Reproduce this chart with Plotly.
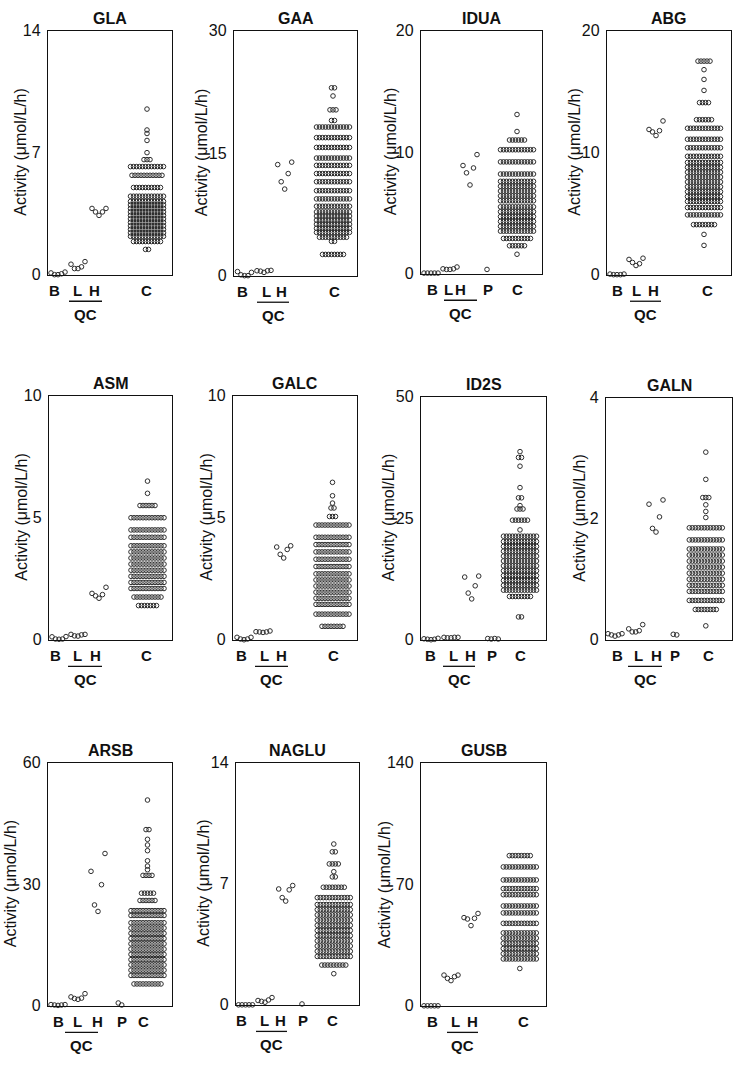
import plotly.graph_objects as go

W_FIG, H_FIG = 734, 1065

# ------------------------------------------------------------------ data
# small groups: B = blank, L/H = QC low/high, P = patient ; C = controls
# C is given as beeswarm rows: level (activity) and number of points in that row
GLA_B = [0.1, 0.0, 0.0, 0.05, 0.15]
GLA_L = [0.6, 0.35, 0.35, 0.45, 0.75]
GLA_H = [3.8, 3.6, 3.4, 3.6, 3.8]
GLA_C_levels = [9.5, 8.3, 8.1, 7.7, 7.0, 6.6, 6.2, 5.7, 5.0, 4.5, 4.2, 4.0, 3.8, 3.6, 3.4, 3.2, 3.0, 2.8, 2.6, 2.4, 2.2, 1.9, 1.45]
GLA_C_counts = [1, 1, 1, 1, 1, 3, 12, 11, 10, 12, 12, 12, 12, 12, 12, 12, 12, 12, 12, 12, 12, 10, 2]
GLA_yticks = [0, 7, 14]

GAA_B = [0.5, 0.1, 0.0, 0.0, 0.4]
GAA_L = [0.6, 0.55, 0.4, 0.6, 0.65]
GAA_H = [13.6, 11.5, 10.6, 12.5, 13.9]
GAA_C_levels = [23.0, 22.0, 20.3, 19.0, 18.2, 16.9, 15.7, 14.4, 13.5, 12.5, 11.5, 10.4, 9.4, 8.5, 7.8, 7.3, 6.8, 6.3, 5.8, 5.3, 4.7, 4.2, 2.6]
GAA_C_counts = [2, 1, 3, 2, 12, 12, 12, 12, 12, 12, 12, 12, 12, 12, 12, 12, 12, 12, 12, 12, 10, 2, 8]
GAA_yticks = [0, 15, 30]

IDUA_B = [0.05, 0.05, 0.05, 0.05, 0.05]
IDUA_L = [0.4, 0.35, 0.35, 0.4, 0.55]
IDUA_H = [8.9, 8.3, 7.3, 8.7, 9.8]
IDUA_P = [0.35]
IDUA_C_levels = [13.1, 11.7, 11.0, 10.2, 9.2, 8.2, 7.6, 7.2, 6.8, 6.4, 6.0, 5.5, 5.1, 4.7, 4.3, 3.9, 3.5, 2.9, 2.3, 1.6]
IDUA_C_counts = [1, 1, 6, 12, 12, 12, 12, 12, 12, 12, 12, 12, 12, 12, 12, 12, 12, 10, 6, 1]
IDUA_yticks = [0, 10, 20]

ABG_B = [0.05, 0.0, 0.0, 0.0, 0.05]
ABG_L = [1.25, 1.0, 0.75, 0.9, 1.35]
ABG_H = [11.9, 11.7, 11.4, 11.8, 12.6]
ABG_C_levels = [17.5, 16.8, 16.0, 15.1, 14.1, 12.7, 12.0, 11.1, 10.4, 9.7, 9.2, 8.8, 8.4, 8.0, 7.6, 7.2, 6.8, 6.4, 6.0, 5.5, 4.9, 4.1, 3.3, 2.4]
ABG_C_counts = [5, 1, 1, 1, 4, 6, 12, 12, 12, 12, 12, 12, 12, 12, 12, 12, 12, 12, 12, 12, 12, 8, 1, 1]
ABG_yticks = [0, 10, 20]

ASM_B = [0.12, 0.03, 0.02, 0.03, 0.13]
ASM_L = [0.22, 0.16, 0.15, 0.2, 0.22]
ASM_H = [1.9, 1.8, 1.7, 1.85, 2.15]
ASM_C_levels = [6.5, 6.0, 5.5, 5.0, 4.5, 4.2, 3.85, 3.6, 3.35, 3.1, 2.85, 2.6, 2.35, 2.1, 1.75, 1.4]
ASM_C_counts = [1, 1, 6, 12, 12, 12, 12, 12, 12, 12, 12, 12, 12, 12, 10, 7]
ASM_yticks = [0, 5, 10]

GALC_B = [0.1, 0.03, 0.0, 0.03, 0.1]
GALC_L = [0.33, 0.32, 0.3, 0.32, 0.36]
GALC_H = [3.8, 3.5, 3.35, 3.7, 3.85]
GALC_C_levels = [6.45, 5.9, 5.6, 5.4, 5.05, 4.7, 4.2, 3.9, 3.6, 3.3, 3.0, 2.7, 2.45, 2.2, 1.95, 1.7, 1.45, 1.05, 0.55]
GALC_C_counts = [1, 1, 1, 2, 3, 12, 12, 12, 12, 12, 12, 12, 12, 12, 12, 12, 12, 12, 8]
GALC_yticks = [0, 5, 10]

ID2S_B = [0.2, 0.1, 0.0, 0.1, 0.3]
ID2S_L = [0.5, 0.4, 0.4, 0.5, 0.5]
ID2S_H = [12.9, 9.6, 8.4, 11.1, 13.1]
ID2S_P = [0.25, 0.15, 0.25, 0.15]
ID2S_C_levels = [38.7, 37.5, 35.7, 31.3, 29.2, 27.6, 26.9, 24.6, 22.6, 21.3, 20.2, 19.2, 18.2, 17.2, 16.2, 15.2, 14.2, 13.2, 12.2, 11.2, 10.2, 8.9, 4.7]
ID2S_C_counts = [1, 2, 1, 1, 2, 1, 3, 6, 1, 12, 12, 12, 12, 12, 12, 12, 12, 12, 12, 12, 12, 8, 2]
ID2S_yticks = [0, 25, 50]

GALN_B = [0.1, 0.08, 0.06, 0.08, 0.1]
GALN_L = [0.18, 0.13, 0.13, 0.15, 0.25]
GALN_H = [2.24, 1.84, 1.78, 2.03, 2.31]
GALN_P = [0.09, 0.08]
GALN_C_levels = [3.1, 2.65, 2.35, 2.23, 2.12, 2.02, 1.85, 1.65, 1.5, 1.4, 1.3, 1.2, 1.1, 1.0, 0.9, 0.8, 0.65, 0.5, 0.23]
GALN_C_counts = [1, 1, 3, 1, 1, 1, 12, 12, 12, 12, 12, 12, 12, 12, 12, 12, 12, 8, 1]
GALN_yticks = [0, 2, 4]

ARSB_B = [0.3, 0.2, 0.1, 0.2, 0.3]
ARSB_L = [2.2, 1.8, 1.6, 1.9, 3.0]
ARSB_H = [33.2, 24.9, 23.3, 29.9, 37.6]
ARSB_P = [0.7, 0.2]
ARSB_C_levels = [50.8, 43.5, 41.1, 39.7, 38.3, 35.8, 34.5, 33.6, 32.2, 27.8, 26.0, 23.5, 22.3, 20.5, 19.2, 17.9, 16.6, 15.3, 14.0, 12.7, 11.4, 10.1, 8.8, 7.5, 5.4]
ARSB_C_counts = [1, 2, 1, 1, 1, 1, 1, 1, 4, 5, 6, 12, 12, 12, 12, 12, 12, 12, 12, 12, 12, 12, 12, 12, 10]
ARSB_yticks = [0, 30, 60]

NAGLU_B = [0.0, 0.0, 0.0, 0.0, 0.0]
NAGLU_L = [0.25, 0.2, 0.15, 0.28, 0.42]
NAGLU_H = [6.7, 6.2, 6.0, 6.65, 6.9]
NAGLU_P = [0.05]
NAGLU_C_levels = [9.3, 8.85, 8.15, 7.7, 7.4, 6.8, 6.2, 5.8, 5.5, 5.2, 4.9, 4.6, 4.3, 4.0, 3.7, 3.4, 3.1, 2.8, 2.3, 1.8]
NAGLU_C_counts = [1, 2, 4, 1, 2, 8, 12, 12, 12, 12, 12, 12, 12, 12, 12, 12, 12, 12, 9, 1]
NAGLU_yticks = [0, 7, 14]

GUSB_B = [0.0, 0.0, 0.0, 0.0, 0.0]
GUSB_L = [17.7, 15.8, 14.5, 16.8, 17.7]
GUSB_H = [50.8, 50.0, 46.2, 50.4, 53.2]
GUSB_C_levels = [86.5, 80.0, 72.5, 67.5, 64.0, 57.5, 53.5, 47.5, 42.0, 39.0, 36.0, 33.0, 30.0, 27.0, 21.5]
GUSB_C_counts = [8, 12, 12, 12, 12, 12, 12, 12, 12, 12, 12, 12, 12, 12, 1]
GUSB_yticks = [0, 70, 140]

Y_TITLE = "Activity (μmol/L/h)"

# ------------------------------------------------------------------ layout constants (pixels)
# box = (left, top, right, bottom); pos[cat] = (label offset, points offset) from box left
PANELS = [
    dict(name="GLA", groups=dict(B=GLA_B, L=GLA_L, H=GLA_H), Cv=GLA_C_levels, Cn=GLA_C_counts, yt=GLA_yticks,
         box=(48, 23, 172, 271), tdx=27, pos=dict(B=(7, 10), L=(29, 30), H=(46, 51), C=(98, 99)), qc=(69, 102)),
    dict(name="GAA", groups=dict(B=GAA_B, L=GAA_L, H=GAA_H), Cv=GAA_C_levels, Cn=GAA_C_counts, yt=GAA_yticks,
         box=(234, 23, 357, 272), tdx=33, pos=dict(B=(8, 10.5), L=(32, 30), H=(47, 50.7), C=(100, 99)), qc=(257, 289)),
    dict(name="IDUA", groups=dict(B=IDUA_B, L=IDUA_L, H=IDUA_H, P=IDUA_P), Cv=IDUA_C_levels, Cn=IDUA_C_counts, yt=IDUA_yticks,
         box=(421, 23, 542, 270), tdx=31, pos=dict(B=(11, 10), L=(27, 29), H=(39, 49), P=(67, 66), C=(96, 96)), qc=(444, 477)),
    dict(name="ABG", groups=dict(B=ABG_B, L=ABG_L, H=ABG_H), Cv=ABG_C_levels, Cn=ABG_C_counts, yt=ABG_yticks,
         box=(607, 23, 731, 271), tdx=32, pos=dict(B=(10, 10), L=(29, 29), H=(46, 49), C=(100, 97)), qc=(630, 661)),
    dict(name="ASM", groups=dict(B=ASM_B, L=ASM_L, H=ASM_H), Cv=ASM_C_levels, Cn=ASM_C_counts, yt=ASM_yticks,
         box=(49, 394, 172, 642), tdx=27, pos=dict(B=(6, 10), L=(28, 29), H=(46, 50), C=(97, 98.5)), qc=(68, 102)),
    dict(name="GALC", groups=dict(B=GALC_B, L=GALC_L, H=GALC_H), Cv=GALC_C_levels, Cn=GALC_C_counts, yt=GALC_yticks,
         box=(233, 394, 357, 642), tdx=26, pos=dict(B=(8, 11), L=(31, 30), H=(48, 50.7), C=(100, 99.5)), qc=(255, 288)),
    dict(name="ID2S", groups=dict(B=ID2S_B, L=ID2S_L, H=ID2S_H, P=ID2S_P), Cv=ID2S_C_levels, Cn=ID2S_C_counts, yt=ID2S_yticks,
         box=(421, 395, 546, 642), tdx=33, pos=dict(B=(9, 10), L=(32, 30), H=(49, 50.7), P=(71, 72), C=(99, 99)), qc=(443, 475)),
    dict(name="GALN", groups=dict(B=GALN_B, L=GALN_L, H=GALN_H, P=GALN_P), Cv=GALN_C_levels, Cn=GALN_C_counts, yt=GALN_yticks,
         box=(606, 396, 732, 642), tdx=26, pos=dict(B=(11, 9), L=(32, 29.7), H=(50, 50), P=(69, 69), C=(102, 99.8)), qc=(628, 662)),
    dict(name="ARSB", groups=dict(B=ARSB_B, L=ARSB_L, H=ARSB_H, P=ARSB_P), Cv=ARSB_C_levels, Cn=ARSB_C_counts, yt=ARSB_yticks,
         box=(48, 767, 172, 1014), tdx=38, pos=dict(B=(11, 10), L=(29, 30), H=(49, 50), P=(74, 72), C=(95, 99.5)), qc=(65, 98)),
    dict(name="NAGLU", groups=dict(B=NAGLU_B, L=NAGLU_L, H=NAGLU_H, P=NAGLU_P), Cv=NAGLU_C_levels, Cn=NAGLU_C_counts, yt=NAGLU_yticks,
         box=(236, 767, 359, 1013), tdx=32, pos=dict(B=(6, 9.5), L=(28, 29), H=(44, 49.7), P=(67, 66), C=(96, 97.8)), qc=(256, 287)),
    dict(name="GUSB", groups=dict(B=GUSB_B, L=GUSB_L, H=GUSB_H), Cv=GUSB_C_levels, Cn=GUSB_C_counts, yt=GUSB_yticks,
         box=(421, 767, 546, 1014), tdx=37, pos=dict(B=(11, 10), L=(34, 30), H=(51, 50), C=(102, 98.8)), qc=(447, 478)),
]

FONT = "Liberation Sans, Arial, Helvetica, sans-serif"
INK = "#111111"
SP_SMALL = 3.5   # px between points of the small groups
SP_C = 3.0       # px between points in a control row


def fx(x):
    return x / W_FIG


def fy(y):
    return 1 - y / H_FIG


fig = go.Figure()
layout = dict(width=W_FIG, height=H_FIG, margin=dict(l=0, r=0, t=0, b=0),
              paper_bgcolor="white", plot_bgcolor="white", showlegend=False,
              font=dict(family=FONT, color=INK))
annotations, shapes = [], []

for i, p in enumerate(PANELS, start=1):
    L, T, R, B = p["box"]
    sx = "" if i == 1 else str(i)
    xs, ys = [], []
    for cat, vals in p["groups"].items():
        c = p["pos"][cat][1]
        n = len(vals)
        for j, v in enumerate(vals):
            xs.append(c + (j - (n - 1) / 2) * SP_SMALL)
            ys.append(v)
    c = p["pos"]["C"][1]
    for v, n in zip(p["Cv"], p["Cn"]):
        for j in range(n):
            xs.append(c + (j - (n - 1) / 2) * SP_C)
            ys.append(v)
    fig.add_trace(go.Scatter(
        x=xs, y=ys, mode="markers", xaxis="x" + sx, yaxis="y" + sx, cliponaxis=False,
        hoverinfo="skip",
        marker=dict(symbol="circle-open", size=4.6, color="#2e2e2e", line=dict(width=1.0))))

    layout["xaxis" + sx] = dict(domain=[fx(L), fx(R)], range=[0, R - L], anchor="y" + sx,
                                showline=True, mirror=True, linecolor=INK, linewidth=1.3,
                                showgrid=False, zeroline=False, showticklabels=False, ticks="",
                                fixedrange=True)
    yt = p["yt"]
    layout["yaxis" + sx] = dict(domain=[fy(B), fy(T)], range=[0, yt[-1]], anchor="x" + sx,
                                tickvals=yt, ticktext=[str(t) for t in yt],
                                showline=True, mirror=True, linecolor=INK, linewidth=1.3,
                                showgrid=False, zeroline=False, ticks="",
                                tickfont=dict(size=16, family=FONT, color=INK),
                                ticklabelstandoff=3, fixedrange=True)

    # category labels
    for cat in list(p["groups"].keys()) + ["C"]:
        annotations.append(dict(x=p["pos"][cat][0], xref="x" + sx, y=fy(B + 16), yref="paper",
                                text="<b>%s</b>" % cat, showarrow=False, xanchor="center",
                                yanchor="middle", font=dict(size=15, family=FONT, color=INK)))
    # QC bracket
    q0, q1 = p["qc"]
    shapes.append(dict(type="line", xref="paper", yref="paper", x0=fx(q0), x1=fx(q1),
                       y0=fy(B + 27), y1=fy(B + 27), line=dict(color=INK, width=1.3)))
    annotations.append(dict(x=fx((q0 + q1) / 2), xref="paper", y=fy(B + 40), yref="paper",
                            text="<b>QC</b>", showarrow=False, xanchor="center", yanchor="middle",
                            font=dict(size=15, family=FONT, color=INK)))
    # title
    annotations.append(dict(x=fx((L + R) / 2), xref="paper", y=fy(T - 12.5), yref="paper",
                            text="<b>%s</b>" % p["name"], showarrow=False, xanchor="center",
                            yanchor="middle", font=dict(size=16, family=FONT, color=INK)))
    # y title
    annotations.append(dict(x=fx(L - p["tdx"]), xref="paper", y=fy((T + B) / 2), yref="paper",
                            text=Y_TITLE, textangle=-90, showarrow=False, xanchor="center",
                            yanchor="middle", font=dict(size=16, family=FONT, color=INK)))

layout["annotations"] = annotations
layout["shapes"] = shapes
fig.update_layout(**layout)
fig.write_html("out.html", config={"displayModeBar": False},
               post_script="document.body.style.margin='0';document.body.style.padding='0';")
